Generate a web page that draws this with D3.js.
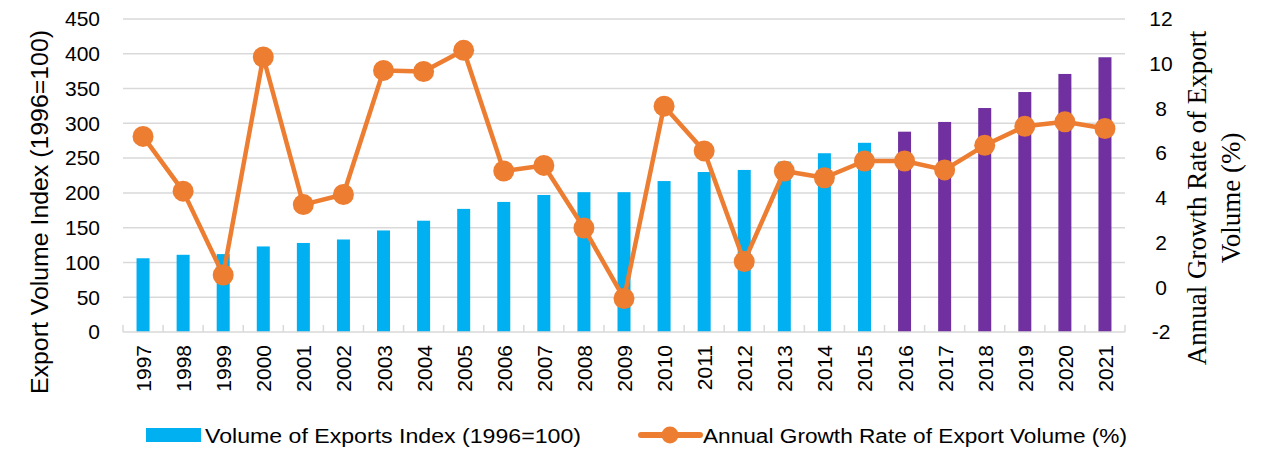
<!DOCTYPE html>
<html>
<head>
<meta charset="utf-8">
<script src="https://cdn.jsdelivr.net/npm/d3@7"></script>
<style>
  body { margin: 0; background: #fff; }
  svg { display: block; }
</style>
</head>
<body>
<div id="chart"></div>
<script>
// --- data ---
const years = ["1997","1998","1999","2000","2001","2002","2003","2004","2005","2006","2007","2008","2009",
               "2010","2011","2012","2013","2014","2015","2016","2017","2018","2019","2020","2021"];
const volumeIndex = [106, 111, 112, 123, 128, 133, 146, 160, 177, 187, 197, 201, 201,
                     217, 230, 233, 245, 257, 272, 288, 302, 322, 345, 371, 395];
const growthRate = [6.75, 4.3, 0.55, 10.3, 3.7, 4.15, 9.7, 9.65, 10.6, 5.2, 5.45, 2.65, -0.5,
                    8.1, 6.1, 1.15, 5.2, 4.9, 5.65, 5.65, 5.25, 6.35, 7.2, 7.4, 7.1];
const forecastFrom = "2016";
const leftTicks = [0, 50, 100, 150, 200, 250, 300, 350, 400, 450];
const rightTicks = [-2, 0, 2, 4, 6, 8, 10, 12];

const W = 1277, H = 450;
const margin = { top: 19, right: 152, bottom: 118, left: 123 };
const innerW = W - margin.left - margin.right;
const innerH = H - margin.top - margin.bottom;

const BLUE = "#00B0F0", PURPLE = "#7030A0", ORANGE = "#ED7D31";
const sans = "'Liberation Sans', Arial, sans-serif";
const tickSize = 21;

const svg = d3.select("#chart").append("svg")
    .attr("width", W).attr("height", H);
const g = svg.append("g").attr("transform", `translate(${margin.left},${margin.top})`);

const x = d3.scaleBand().domain(years).range([0, innerW]);
const yL = d3.scaleLinear().domain([0, 450]).range([innerH, 0]);
const yR = d3.scaleLinear().domain([-2, 12]).range([innerH, 0]);

// gridlines
g.append("g").selectAll("line").data(leftTicks.slice(1)).join("line")
    .attr("x1", 0).attr("x2", innerW)
    .attr("y1", d => yL(d)).attr("y2", d => yL(d))
    .attr("stroke", "#D9D9D9").attr("stroke-width", 1.5);

// bars
const barW = 13;
g.append("g").selectAll("rect").data(years).join("rect")
    .attr("x", (d) => x(d) + x.bandwidth() / 2 - barW / 2)
    .attr("width", barW)
    .attr("y", (d, i) => yL(volumeIndex[i]))
    .attr("height", (d, i) => innerH - yL(volumeIndex[i]))
    .attr("fill", d => +d >= +forecastFrom ? PURPLE : BLUE);

// x axis line + tick marks between categories
const xAxis = g.append("g").attr("transform", `translate(0,${innerH})`);
xAxis.append("line").attr("x1", 0).attr("x2", innerW)
    .attr("stroke", "#D9D9D9").attr("stroke-width", 1.5);
xAxis.selectAll(".tk").data(d3.range(years.length + 1)).join("line")
    .attr("class", "tk")
    .attr("x1", i => i * x.step()).attr("x2", i => i * x.step())
    .attr("y1", 0).attr("y2", -7)
    .attr("stroke", "#D9D9D9").attr("stroke-width", 1.5);
xAxis.selectAll("text").data(years).join("text")
    .attr("transform", d => `translate(${x(d) + x.bandwidth() / 2 + 8},${13}) rotate(-90)`)
    .attr("text-anchor", "end")
    .attr("font-family", sans).attr("font-size", tickSize).attr("fill", "#000")
    .text(d => d);

// left axis labels
g.append("g").selectAll("text").data(leftTicks).join("text")
    .attr("x", -23).attr("y", d => yL(d)).attr("dy", "0.35em")
    .attr("text-anchor", "end")
    .attr("font-family", sans).attr("font-size", tickSize).attr("fill", "#000")
    .text(d => d);

// right axis labels
g.append("g").selectAll("text").data(rightTicks).join("text")
    .attr("x", innerW + 36).attr("y", d => yR(d)).attr("dy", "0.35em")
    .attr("text-anchor", "middle")
    .attr("font-family", sans).attr("font-size", tickSize).attr("fill", "#000")
    .text(d => d);

// line
const lineData = years.map((d, i) => ({ year: d, v: growthRate[i] }));
g.append("path").datum(lineData)
    .attr("fill", "none").attr("stroke", ORANGE).attr("stroke-width", 4.5)
    .attr("stroke-linejoin", "round")
    .attr("d", d3.line().x(d => x(d.year) + x.bandwidth() / 2).y(d => yR(d.v)));
g.append("g").selectAll("circle").data(lineData).join("circle")
    .attr("cx", d => x(d.year) + x.bandwidth() / 2)
    .attr("cy", d => yR(d.v))
    .attr("r", 10.5).attr("fill", ORANGE);

// axis titles
svg.append("text")
    .attr("transform", `translate(48,212) rotate(-90)`)
    .attr("text-anchor", "middle")
    .attr("font-family", sans).attr("font-size", 23).attr("fill", "#000")
    .attr("textLength", 364).attr("lengthAdjust", "spacingAndGlyphs")
    .text("Export Volume Index (1996=100)");

const rt = svg.append("text")
    .attr("transform", `translate(1206,198) rotate(-90)`)
    .attr("text-anchor", "middle")
    .attr("font-family", "'Liberation Serif', 'Times New Roman', serif")
    .attr("font-size", 27).attr("fill", "#000");
rt.append("tspan").attr("x", 0).attr("y", 0).text("Annual Growth Rate of Export");
rt.append("tspan").attr("x", 0).attr("y", 34).text("Volume (%)");

// legend
const lg = svg.append("g");
const legendFont = 20;
lg.append("rect").attr("x", 146).attr("y", 428).attr("width", 55).attr("height", 14).attr("fill", BLUE);
lg.append("text").attr("x", 205).attr("y", 443)
    .attr("font-family", sans).attr("font-size", legendFont).attr("fill", "#000")
    .attr("textLength", 376).attr("lengthAdjust", "spacingAndGlyphs")
    .text("Volume of Exports Index (1996=100)");
lg.append("line").attr("x1", 641).attr("x2", 700).attr("y1", 435).attr("y2", 435)
    .attr("stroke", ORANGE).attr("stroke-width", 6).attr("stroke-linecap", "round");
lg.append("circle").attr("cx", 670).attr("cy", 435).attr("r", 8.5).attr("fill", ORANGE);
lg.append("text").attr("x", 703).attr("y", 443)
    .attr("font-family", sans).attr("font-size", legendFont).attr("fill", "#000")
    .attr("textLength", 424).attr("lengthAdjust", "spacingAndGlyphs")
    .text("Annual Growth Rate of Export Volume (%)");
</script>
</body>
</html>
